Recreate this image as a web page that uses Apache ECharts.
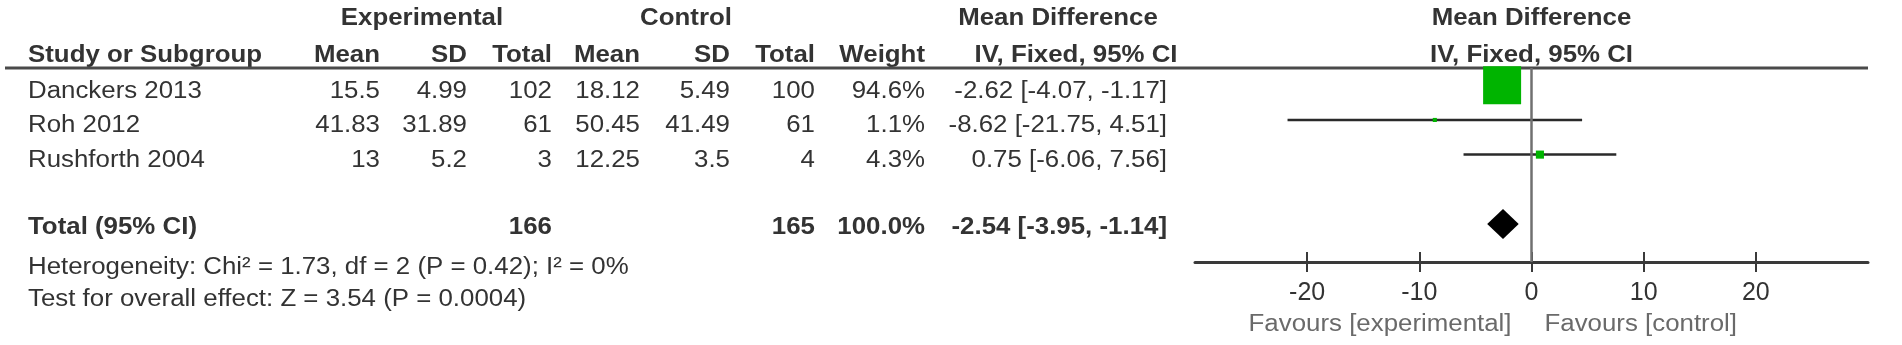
<!DOCTYPE html>
<html><head><meta charset="utf-8">
<script src="https://cdn.jsdelivr.net/npm/echarts@6/dist/echarts.min.js"></script>
<style>html,body{margin:0;padding:0;background:#fff}#c{width:1902px;height:345px}</style>
</head><body><div id="c"></div>
<script>
// ---- data ----
const studies = ["Danckers 2013", "Roh 2012", "Rushforth 2004"];
const expMean = ["15.5", "41.83", "13"];
const expSD = ["4.99", "31.89", "5.2"];
const expTotal = [102, 61, 3];
const ctrlMean = ["18.12", "50.45", "12.25"];
const ctrlSD = ["5.49", "41.49", "3.5"];
const ctrlTotal = [100, 61, 4];
const weights = [94.6, 1.1, 4.3];
const md = [-2.62, -8.62, 0.75];
const ciLow = [-4.07, -21.75, -6.06];
const ciHigh = [-1.17, 4.51, 7.56];
const totalLabel = "Total (95% CI)";
const totalExp = 166;
const totalCtrl = 165;
const totalWeight = 100.0;
const totalMD = -2.54;
const totalLow = -3.95;
const totalHigh = -1.14;
const heterogeneity = "Heterogeneity: Chi² = 1.73, df = 2 (P = 0.42); I² = 0%";
const overallEffect = "Test for overall effect: Z = 3.54 (P = 0.0004)";
const xTicks = [-20, -10, 0, 10, 20];
const favourLeft = "Favours [experimental]";
const favourRight = "Favours [control]";
const groupHeaders = ["Experimental", "Control", "Mean Difference", "Mean Difference"];
const colHeaders = ["Study or Subgroup", "Mean", "SD", "Total", "Mean", "SD", "Total", "Weight", "IV, Fixed, 95% CI", "IV, Fixed, 95% CI"];

// ---- layout ----
const FONT = '"Liberation Sans", Arial, sans-serif';
const FS = 23.5;
const SX = 1.1;
const TXT = '#333';
const rowIdx = [0, 1, 2];
const totalRow = 4;
const colRight = [380, 467, 552, 640, 730, 815, 925, 1167];
const studyLeft = 28;

const fmt2 = v => v.toFixed(2);
const ciText = (m, l, h) => `${fmt2(m)} [${fmt2(l)}, ${fmt2(h)}]`;
const maxW = Math.max(...weights);

const chart = echarts.init(document.getElementById('c'), null, {renderer: 'canvas'});

const ciData = rowIdx.map(i => [ciLow[i], ciHigh[i], i]);
const pointData = rowIdx.map(i => ({value: [md[i], i], symbolSize: 38 * Math.sqrt(weights[i] / maxW)}));

chart.setOption({
  animation: false,
  grid: {left: 1195, width: 673, top: 68, height: 194},
  xAxis: [{
    type: 'value', min: -30, max: 30, interval: 10, position: 'bottom',
    axisLine: {show: true, onZero: false, lineStyle: {color: '#3a3a3a', width: 3}},
    axisTick: {show: true, customValues: xTicks, inside: false, length: 10, lineStyle: {color: '#3a3a3a', width: 2}},
    axisLabel: {customValues: xTicks, margin: 19, fontSize: 25, color: TXT, fontFamily: FONT},
    splitLine: {show: false}
  }, {
    type: 'value', min: -30, max: 30, interval: 10, position: 'bottom', gridIndex: 0,
    axisLine: {show: false, onZero: false},
    axisTick: {show: true, customValues: xTicks, inside: true, length: 10, lineStyle: {color: '#3a3a3a', width: 2}},
    axisLabel: {show: false},
    splitLine: {show: false}
  }],
  yAxis: {type: 'value', inverse: true, min: -0.5, max: 5.1, show: false},
  series: [{
    type: 'custom',
    data: ciData,
    renderItem: (params, api) => {
      const a = api.coord([api.value(0), api.value(2)]);
      const b = api.coord([api.value(1), api.value(2)]);
      return {type: 'line', shape: {x1: a[0], y1: a[1], x2: b[0], y2: b[1]},
        style: {stroke: '#2a2a2a', lineWidth: 2.5}};
    },
    z: 3,
    markLine: {
      silent: true, symbol: 'none', label: {show: false},
      lineStyle: {color: '#707070', width: 2.5, type: 'solid'},
      data: [{xAxis: 0}]
    }
  }, {
    type: 'scatter',
    symbol: 'rect',
    itemStyle: {color: '#00b400', opacity: 1},
    data: pointData,
    z: 4
  }, {
    type: 'custom',
    data: [[totalLow, totalMD, totalHigh, totalRow]],
    renderItem: (params, api) => {
      const y = api.value(3);
      const l = api.coord([api.value(0), y]);
      const m = api.coord([api.value(1), y]);
      const h = api.coord([api.value(2), y]);
      return {type: 'polygon', shape: {points: [[l[0], l[1]], [m[0], m[1] - 15], [h[0], h[1]], [m[0], m[1] + 15]]},
        style: {fill: '#000'}};
    },
    z: 5
  }]
});

// ---- table text via graphic ----
const yPix = r => chart.convertToPixel({yAxisIndex: 0}, r);
const xZero = chart.convertToPixel({xAxisIndex: 0}, 0);
const els = [];
function txt(text, x, y, align, bold, color) {
  els.push({type: 'text', silent: true, x: x, y: y, scaleX: SX, scaleY: 1,
    style: {text: String(text), x: 0, y: 0, textAlign: align, textVerticalAlign: 'middle',
      font: `${bold ? 'bold ' : ''}${FS}px ${FONT}`, fill: color || TXT}});
}
// header row 1
txt(groupHeaders[0], 422, 19, 'center', true);
txt(groupHeaders[1], 686, 19, 'center', true);
txt(groupHeaders[2], 1058, 19, 'center', true);
txt(groupHeaders[3], xZero, 19, 'center', true);
// header row 2
const hy = 56;
txt(colHeaders[0], studyLeft, hy, 'left', true);
for (let c = 1; c <= 7; c++) txt(colHeaders[c], colRight[c - 1], hy, 'right', true);
txt(colHeaders[8], 1076, hy, 'center', true);
txt(colHeaders[9], xZero, hy, 'center', true);
// header underline
els.push({type: 'line', silent: true, shape: {x1: 5, y1: 68, x2: 1868, y2: 68},
  style: {stroke: '#4a4a4a', lineWidth: 3}});
// study rows
rowIdx.forEach(i => {
  const y = yPix(i) + 6;
  txt(studies[i], studyLeft, y, 'left', false);
  const cells = [expMean[i], expSD[i], expTotal[i], ctrlMean[i], ctrlSD[i], ctrlTotal[i],
    weights[i].toFixed(1) + '%', ciText(md[i], ciLow[i], ciHigh[i])];
  cells.forEach((v, c) => txt(v, colRight[c], y, 'right', false));
});
// total row
const ty = yPix(totalRow) + 4;
txt(totalLabel, studyLeft, ty, 'left', true);
txt(totalExp, colRight[2], ty, 'right', true);
txt(totalCtrl, colRight[5], ty, 'right', true);
txt(totalWeight.toFixed(1) + '%', colRight[6], ty, 'right', true);
txt(ciText(totalMD, totalLow, totalHigh), colRight[7], ty, 'right', true);
// footnotes
txt(heterogeneity, studyLeft, 268, 'left', false);
txt(overallEffect, studyLeft, 300, 'left', false);
// favours
txt(favourLeft, xZero - 20, 325, 'right', false, '#6a6a6a');
txt(favourRight, xZero + 13, 325, 'left', false, '#6a6a6a');

chart.setOption({graphic: {elements: els}});
</script>
</body></html>
